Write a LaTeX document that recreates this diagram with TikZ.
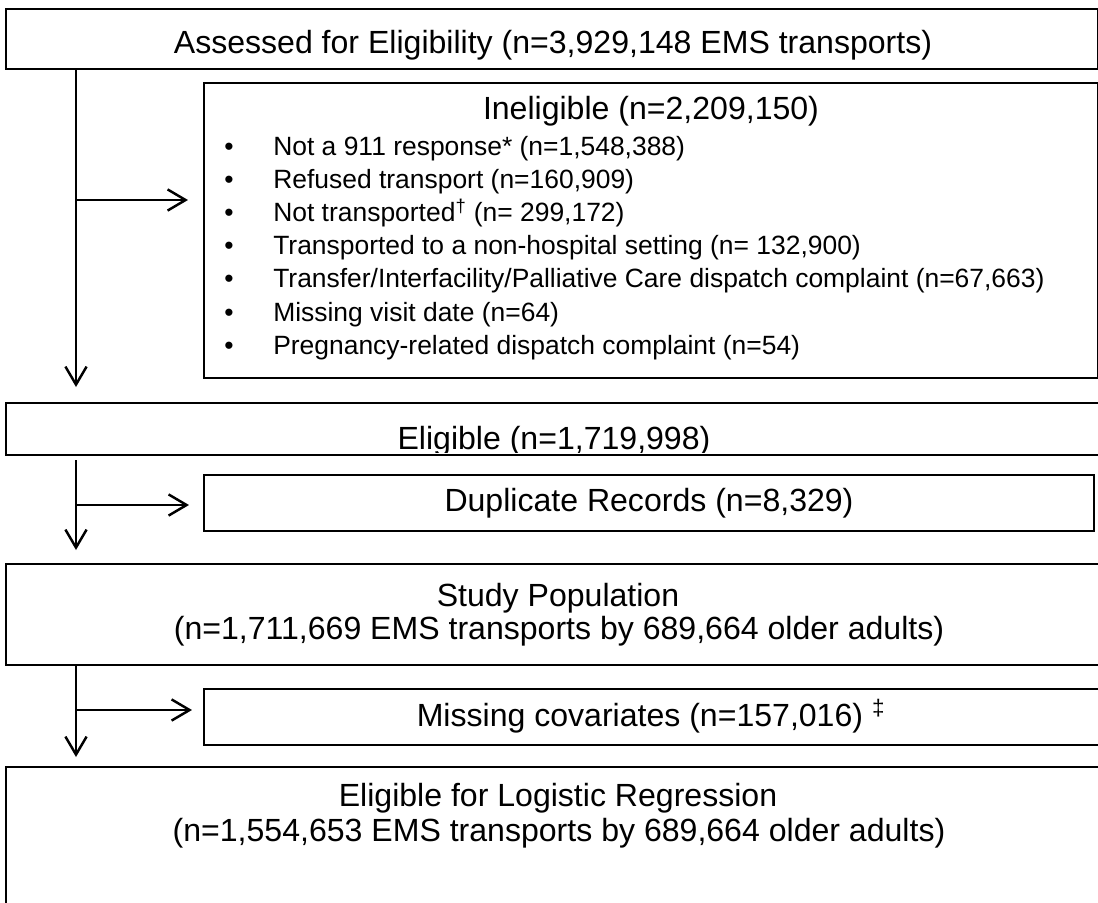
\documentclass[tikz,border=0pt]{standalone}
\usepackage{fontspec}
\setmainfont{Liberation Sans}
\usetikzlibrary{arrows.meta}

\begin{document}
\begin{tikzpicture}[x=0.025cm,y=-0.025cm,
  box/.style={draw,line width=1.45pt,anchor=north west,inner sep=0pt},
  head/.style={anchor=base,inner sep=0pt,font=\fontsize{22.8}{28}\selectfont},
  entry/.style={anchor=base west,inner sep=0pt,font=\fontsize{18.8}{22}\selectfont},
  dot/.style={anchor=base,inner sep=0pt,font=\fontsize{18.8}{22}\selectfont},
  flow/.style={line width=1.75pt,-{Straight Barb[length=0.45cm,width=0.53cm]}}]
 \useasboundingbox (0,0) rectangle (1098,902);
 \clip (0,0) rectangle (1098,902);
 \node[box,minimum width=27.3cm,minimum height=1.5cm] (top) at (5,8) {};
 \node[box,minimum width=22.35cm,minimum height=7.375cm] (inel) at (203,82) {};
 \node[box,minimum width=27.625cm,minimum height=1.3cm] (elig) at (5,402) {};
 \node[box,minimum width=22.25cm,minimum height=1.4cm] (dup) at (203,474) {};
 \node[box,minimum width=27.625cm,minimum height=2.525cm] (study) at (5,563) {};
 \node[box,minimum width=22.675cm,minimum height=1.4cm] (miss) at (203,688) {};
 \node[box,minimum width=27.625cm,minimum height=4.1cm] (final) at (5,766) {};
 \node[head] (topt) at (553,53) {Assessed for Eligibility (n=3,929,148 EMS transports)};
 \node[head] (inelt) at (651,119) {Ineligible (n=2,209,150)};
 \foreach \txt [count=\i] in {{Not a 911 response* (n=1,548,388)},
   {Refused transport (n=160,909)},
   {Not transported\textsuperscript{†} (n= 299,172)},
   {Transported to a non-hospital setting (n= 132,900)},
   {Transfer/Interfacility/Palliative Care dispatch complaint (n=67,663)},
   {Missing visit date (n=64)},
   {Pregnancy-related dispatch complaint (n=54)}} {
  \pgfmathsetmacro{\yy}{155+33.2*(\i-1)}
  \node[dot] (b\i) at (229,\yy) {\textbullet};
  \node[entry] (r\i) at (273,\yy) {\txt};
 }
 \begin{scope}
  \clip (5,402) rectangle (1110,452);
  \node[head] (eligt) at (554,449) {Eligible (n=1,719,998)};
 \end{scope}
 \node[head] (dupt) at (649,511) {Duplicate Records (n=8,329)};
 \node[head] (studyt1) at (558,606) {Study Population};
 \node[head] (studyt2) at (559,639) {(n=1,711,669 EMS transports by 689,664 older adults)};
 \node[head] (misst) at (651,726) {Missing covariates (n=157,016) \textsuperscript{‡}};
 \node[head] (finalt1) at (558,806) {Eligible for Logistic Regression};
 \node[head] (finalt2) at (559,841) {(n=1,554,653 EMS transports by 689,664 older adults)};
 \coordinate (trunk) at (76,0);
 \coordinate (j1) at (76,200);
 \coordinate (j2) at (76,505);
 \coordinate (j3) at (76,710);
 \draw[flow,shorten >=0.375cm] (top.south -| trunk) -- (elig.north -| trunk);
 \draw[flow,shorten <=0.1cm,shorten >=0.325cm] (elig.south -| trunk) -- (study.north -| trunk);
 \draw[flow,shorten >=0.225cm] (study.south -| trunk) -- (final.north -| trunk);
 \draw[flow,shorten >=0.375cm] (j1) -- (j1 -| inel.west);
 \draw[flow,shorten >=0.35cm] (j2) -- (j2 -| dup.west);
 \draw[flow,shorten >=0.275cm] (j3) -- (j3 -| miss.west);
\end{tikzpicture}
\end{document}
